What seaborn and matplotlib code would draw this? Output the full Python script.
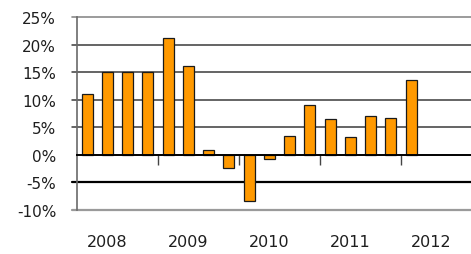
import numpy as np
import pandas as pd
import matplotlib
matplotlib.use("Agg")
import matplotlib.pyplot as plt
import matplotlib.transforms as mtransforms
import seaborn as sns

# Kvartalsvärden i procent, 2008 Q1 - 2012 Q1
quarter_idx = list(range(17))
growth = [11.1, 15.0, 15.0, 15.0, 21.2, 16.1, 0.9, -2.3, -8.3, -0.8,
          3.5, 9.0, 6.5, 3.2, 7.0, 6.7, 13.6]
year_labels = ["2008", "2009", "2010", "2011", "2012"]
year_pos = [1, 5, 9, 13, 17]
year_ticks = [3.5, 7.5, 11.5, 15.5]
y_levels = [-10, -5, 0, 5, 10, 15, 20, 25]

df = pd.DataFrame({"q": quarter_idx, "value": growth})

sns.set_style("white")
plt.rcParams["font.family"] = ["DejaVu Sans"]

fig = plt.figure(figsize=(4.71, 2.55), dpi=100)
ax = fig.add_axes([77 / 471, 1 - 211 / 255, 1 - 77 / 471, (211 - 18.3) / 255])

# Rutnät
grid_colors = {-10: "#9a9a9a", -5: "#000000", 0: "#000000", 5: "#3a3a3a",
               10: "#3a3a3a", 15: "#3a3a3a", 20: "#3a3a3a", 25: "#8a8a8a"}
grid_widths = {-10: 1.6, -5: 1.6, 0: 1.4, 5: 1.1, 10: 1.1, 15: 1.1, 20: 1.1, 25: 1.2}
for lv in y_levels:
    if lv == 0:
        continue
    ax.axhline(lv, color=grid_colors[lv], lw=grid_widths[lv], zorder=1,
               xmin=-0.013, clip_on=False)

sns.barplot(data=df, x="q", y="value", native_scale=True, width=0.54,
            color="#FF9900", saturation=1, edgecolor="#1a1a1a", linewidth=0.9,
            ax=ax, zorder=3)

ax.set_xlim(-0.5, 18.96)
ax.set_ylim(-10, 25)

# Y-axel
ax.set_yticks(y_levels)
ax.set_yticklabels([f"{v}%" for v in y_levels])
ax.tick_params(axis="y", length=0, pad=15, labelsize=11, labelcolor="#1e1e1e")

# X-axel vid noll
for s in ["top", "right"]:
    ax.spines[s].set_visible(False)
ax.spines["left"].set_color("#6a6a6a")
ax.spines["left"].set_linewidth(1.2)
ax.spines["bottom"].set_position(("data", 0))
ax.spines["bottom"].set_color("#000000")
ax.spines["bottom"].set_linewidth(1.4)
ax.spines["bottom"].set_zorder(4)
ax.set_xticks(year_ticks)
ax.set_xticklabels([])
ax.tick_params(axis="x", direction="out", length=7, width=1, color="#444444",
               bottom=True)

trans = mtransforms.blended_transform_factory(ax.transData, ax.transAxes)
for pos, lab in zip(year_pos, year_labels):
    ax.text(pos, -0.161, lab, transform=trans, ha="center", va="center",
            fontsize=11.5, color="#1e1e1e", clip_on=False)

ax.set_xlabel("")
ax.set_ylabel("")

fig.savefig("out.png", dpi=100)
